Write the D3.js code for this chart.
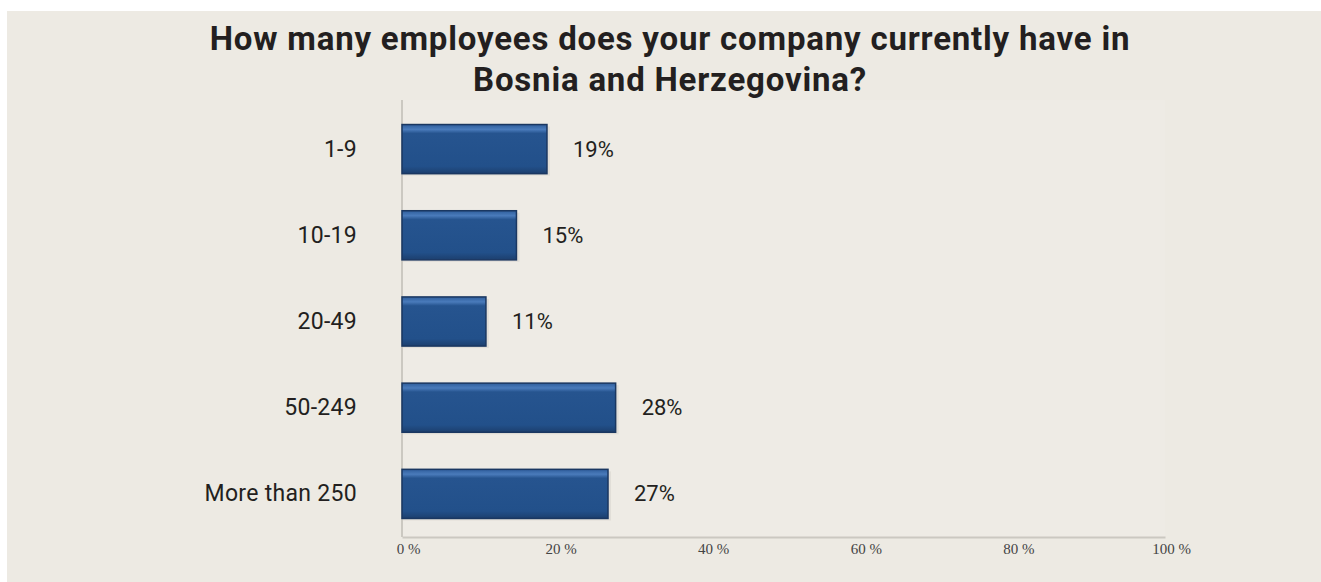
<!DOCTYPE html>
<html><head><meta charset="utf-8">
<script src="https://cdn.jsdelivr.net/npm/d3@7"></script>
<style>
html,body{margin:0;padding:0;background:#fff;}
svg{display:block;}
</style></head>
<body>
<script>
const categories = ["1-9", "10-19", "20-49", "50-249", "More than 250"];
const values = [19, 15, 11, 28, 27];
const valueLabels = ["19%", "15%", "11%", "28%", "27%"];
const tickValues = [0, 20, 40, 60, 80, 100];
const tickLabels = ["0 %", "20 %", "40 %", "60 %", "80 %", "100 %"];
const titleLines = ["How many employees does your company currently have in", "Bosnia and Herzegovina?"];

const W = 1321, H = 582;
const svg = d3.select("body").append("svg").attr("width", W).attr("height", H);

const defs = svg.append("defs");
const g1 = defs.append("linearGradient").attr("id", "barGrad").attr("x1", 0).attr("y1", 0).attr("x2", 0).attr("y2", 1);
g1.append("stop").attr("offset", "0%").attr("stop-color", "#2f5e9c");
g1.append("stop").attr("offset", "10%").attr("stop-color", "#4a7bbb");
g1.append("stop").attr("offset", "18%").attr("stop-color", "#26548f");
g1.append("stop").attr("offset", "85%").attr("stop-color", "#22508a");
g1.append("stop").attr("offset", "100%").attr("stop-color", "#1c3f6e");

// background panel
svg.append("rect").attr("x", 7).attr("y", 11).attr("width", W - 7).attr("height", H - 11).attr("fill", "#edeae3");

const x = d3.scaleLinear().domain([0, 100]).range([402, 1165]);
const y = d3.scaleBand().domain(categories).range([106, 537]).paddingInner(0.43).paddingOuter(0.215);

// plot area (slightly lighter)
svg.append("rect").attr("x", x(0)).attr("y", 100).attr("width", x(100) - x(0)).attr("height", 537 - 100).attr("fill", "#eeebe5");

// title
const title = svg.append("text").attr("text-anchor", "middle")
  .attr("font-family", "Roboto, 'Open Sans', sans-serif").attr("font-weight", 700)
  .attr("font-size", 33).attr("letter-spacing", 0.8).attr("fill", "#231f20");
titleLines.forEach((t, i) => {
  title.append("tspan").attr("x", 670).attr("y", 50 + i * 41).text(t);
});

// axes
const xAxis = d3.axisBottom(x).tickValues(tickValues).tickSize(0).tickFormat((d, i) => tickLabels[i]);
const gx = svg.append("g").attr("transform", "translate(0,537)").call(xAxis);
gx.select(".domain").attr("stroke", "#cbc8c1").attr("stroke-width", 2);
gx.selectAll("text").attr("font-family", "'Liberation Serif', serif").attr("font-size", 15)
  .attr("fill", "#444").attr("dx", 6).attr("dy", 14);

const gy = svg.append("g").attr("transform", `translate(${x(0)},0)`);
gy.append("line").attr("x1", 0).attr("x2", 0).attr("y1", 100).attr("y2", 537)
  .attr("stroke", "#cbc8c1").attr("stroke-width", 2);

// category labels
svg.append("g").selectAll("text").data(categories).join("text")
  .attr("x", 357).attr("y", d => y(d) + y.bandwidth() / 2)
  .attr("text-anchor", "end").attr("dominant-baseline", "central")
  .attr("font-family", "Roboto, sans-serif").attr("font-size", 23).attr("letter-spacing", 0.3).attr("fill", "#231f20")
  .text(d => d);

// bars
const bars = svg.append("g");
bars.selectAll("rect.shadow").data(categories).join("rect").attr("class", "shadow")
  .attr("x", x(0) + 1).attr("y", d => y(d) + 2)
  .attr("width", (d, i) => x(values[i]) - x(0) + 2).attr("height", y.bandwidth())
  .attr("fill", "#d8d5ce").attr("opacity", 0.6);
bars.selectAll("rect.bar").data(categories).join("rect").attr("class", "bar")
  .attr("x", x(0)).attr("y", d => y(d))
  .attr("width", (d, i) => x(values[i]) - x(0)).attr("height", y.bandwidth())
  .attr("fill", "url(#barGrad)").attr("stroke", "#1a3761").attr("stroke-width", 1.5);

// value labels
svg.append("g").selectAll("text").data(categories).join("text")
  .attr("x", (d, i) => x(values[i]) + 26).attr("y", d => y(d) + y.bandwidth() / 2)
  .attr("dominant-baseline", "central")
  .attr("font-family", "Roboto, sans-serif").attr("font-size", 22).attr("fill", "#231f20")
  .text((d, i) => valueLabels[i]);
</script>
</body></html>
